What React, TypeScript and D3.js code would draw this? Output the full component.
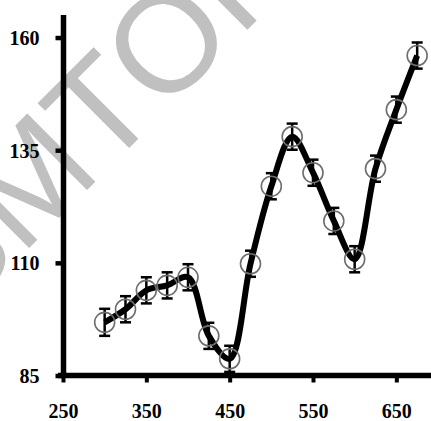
import React, { useEffect, useRef } from "react";
import {
  select,
  scaleLinear,
  axisBottom,
  axisLeft,
  line,
  curveCatmullRom,
} from "d3";

// wavelength (nm)
const wavelengths = [300, 325, 350, 375, 400, 425, 450, 475, 500, 525, 550, 575, 600, 625, 650, 675];
// measured response
const values = [96.8, 99.7, 103.9, 105.0, 106.8, 93.8, 88.7, 109.8, 127.0, 138.0, 130.0, 119.3, 110.8, 130.9, 144.0, 156.0];
// error bar half-length
const errors = [3, 2.9, 2.9, 2.9, 2.9, 2.9, 2.9, 2.9, 2.9, 2.9, 2.9, 2.9, 2.9, 2.9, 2.9, 2.9];

const xTicks = [250, 350, 450, 550, 650];
const yTicks = [85, 110, 135, 160];

const watermark = "SMTOR";

const W = 431;
const H = 421;
const labelFont = "Liberation Serif";

const App = () => {
  const svgRef = useRef<SVGSVGElement>(null);

  const xScale = scaleLinear().domain([250, 700]).range([63, 438]);
  const yScale = scaleLinear().domain([85, 165]).range([375.5, 15]);

  useEffect(() => {
    const svg = select(svgRef.current);

    const xAxis = axisBottom(xScale).tickValues(xTicks).tickSizeInner(7).tickSizeOuter(0);
    const gx = svg.select<SVGGElement>(".x-axis").attr("transform", "translate(0,375.5)").call(xAxis);
    gx.select(".domain").attr("stroke", "#000").attr("stroke-width", 5.5).attr("d", "M58,0H431");
    gx.selectAll(".tick line").attr("stroke", "#000").attr("stroke-width", 4);
    gx.selectAll(".tick text")
      .attr("fill", "#000")
      .attr("y", 42)
      .attr("dy", null)
      .style("font-family", labelFont)
      .style("font-size", "20px")
      .style("font-weight", "700");

    const yAxis = axisLeft(yScale).tickValues(yTicks).tickSizeInner(8).tickSizeOuter(0).tickPadding(16);
    const gy = svg.select<SVGGElement>(".y-axis").attr("transform", "translate(63.5,0)").call(yAxis);
    gy.select(".domain").attr("stroke", "#000").attr("stroke-width", 5.5).attr("d", "M0,15V378");
    gy.selectAll(".tick line").attr("stroke", "#000").attr("stroke-width", 4.5);
    gy.selectAll(".tick text")
      .attr("fill", "#000")
      .attr("dy", "0.34em")
      .style("font-family", labelFont)
      .style("font-size", "20px")
      .style("font-weight", "700");
  }, []);

  const path = line<number>()
    .x((d, i) => xScale(wavelengths[i]))
    .y((d) => yScale(d))
    .curve(curveCatmullRom.alpha(0.5))(values);

  return (
    <svg
      ref={svgRef}
      width={W}
      height={H}
      style={{ display: "block", position: "absolute", left: 0, top: 0 }}
    >
      <rect width={W} height={H} fill="#fff" />
      <text
        x={-45}
        y={322}
        transform="rotate(-45,-45,322)"
        fill="#c0c0c0"
        fontFamily="Liberation Sans"
        fontSize={140}
      >
        {watermark}
      </text>
      <g className="y-axis" />
      <g className="x-axis" />
      <path d={path ?? ""} fill="none" stroke="#000" strokeWidth={6} strokeLinejoin="round" />
      {values.map((v, i) => {
        const cx = xScale(wavelengths[i]);
        const top = yScale(v + errors[i]);
        const bot = yScale(v - errors[i]);
        return (
          <g key={i}>
            <line x1={cx} x2={cx} y1={top} y2={bot} stroke="#000" strokeWidth={2.5} />
            <line x1={cx - 5.5} x2={cx + 5.5} y1={top} y2={top} stroke="#000" strokeWidth={2.5} />
            <line x1={cx - 5.5} x2={cx + 5.5} y1={bot} y2={bot} stroke="#000" strokeWidth={2.5} />
            <circle cx={cx} cy={yScale(v)} r={10} fill="none" stroke="#6e6e6e" strokeWidth={1.6} />
          </g>
        );
      })}
    </svg>
  );
};

export default App;
